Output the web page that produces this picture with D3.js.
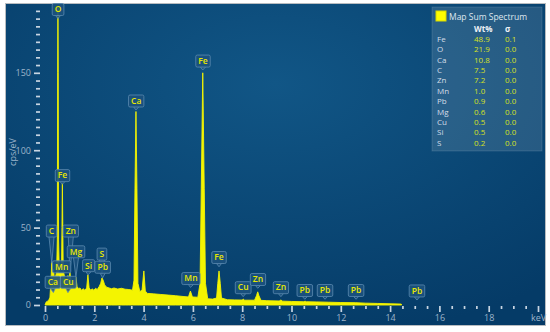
<!DOCTYPE html>
<html>
<head>
<meta charset="utf-8">
<script src="https://cdn.jsdelivr.net/npm/d3@7"></script>
<style>
body { margin: 0; background: #fff; }
text { font-family: "Open Sans", sans-serif; }
</style>
</head>
<body>
<svg id="chart" width="550" height="332"></svg>
<script>
// spectrum (keV, cps/eV)
var specKeV = [0.00,0.05,0.10,0.15,0.20,0.24,0.277,0.31,0.341,0.37,0.42,0.47,0.50,0.513,0.525,0.537,0.55,0.58,0.637,0.67,0.688,0.705,0.722,0.74,0.80,0.86,0.93,0.97,1.012,1.06,1.12,1.19,1.254,1.30,1.36,1.42,1.48,1.55,1.62,1.69,1.74,1.79,1.86,1.92,1.98,2.05,2.12,2.20,2.26,2.31,2.36,2.42,2.50,2.60,2.70,2.80,2.95,3.10,3.25,3.40,3.55,3.61,3.65,3.69,3.73,3.77,3.85,3.94,4.01,4.07,4.15,4.40,4.70,5.00,5.30,5.60,5.82,5.90,5.98,6.20,6.29,6.34,6.40,6.46,6.51,6.60,6.80,6.96,7.01,7.06,7.11,7.16,7.40,7.70,8.00,8.04,8.10,8.50,8.58,8.63,8.68,8.76,9.00,9.50,9.57,9.64,10.00,10.50,10.55,10.60,11.00,11.50,12.00,12.61,13.00,13.50,14.00,14.45,14.47];
var specCps = [0,2,2.5,3,5,15,28,20,23,19,18,21,42,150,192,150,42,22,25,22,50,79,50,22,18,16,19,17,21,15,13,13.5,18,12,10.5,11,9.5,10.5,9.5,11,19.5,11,9.5,10.5,9.5,10.8,10,12,14,17.5,16,13,11.5,11,10.5,11,10.3,10.8,10.2,10,9.6,16,75,125,75,14,8.5,10,22,9,7.5,7.2,6.8,6.4,6,5.5,5.2,9,5.2,5,14,75,150,75,14,4,3.8,4.5,14,22,14,4.5,3.4,3.3,3.2,3.8,3.1,3.1,6,8.5,6,3,2.8,2.6,3.2,2.5,2.3,2.1,2.5,2.1,2.0,1.8,1.6,1.5,1.2,1.0,0.8,0.6,0];

// peak labels: text, label centre (keV), label foot (cps), pointer tip (keV, cps)
var labelText  = ["C","Zn","Mg","Mn","Ca","Cu","Si","S","Pb","O","Fe","Ca","Fe","Mn","Fe","Cu","Zn","Zn","Pb","Pb","Pb","Pb"];
var labelKeV   = [0.264,1.047,1.258,0.677,0.316,0.945,1.77,2.31,2.34,0.53,0.71,3.70,6.41,5.92,7.06,8.04,8.64,9.57,10.54,11.36,12.62,15.09];
var labelCps   = [43.9,43.9,30.5,20.8,10.8,10.8,21.5,29,20.5,187,79.7,127.9,153.7,13.2,26.8,7.3,12.6,7.3,5.5,5.5,5.5,5.2];
var tipKeV     = [0.277,1.012,1.254,0.637,0.341,0.93,1.74,2.307,2.34,0.525,0.705,3.69,6.40,5.90,7.06,8.04,8.63,9.57,10.54,11.36,12.62,15.09];
var tipCps     = [27,21,18,25,8,8,19.5,20,17.5,185,78,126,151.8,11.4,24.7,5.4,10.8,5.4,3.7,3.7,3.7,3.2];

// quantification table
var legendEl    = ["Fe","O","Ca","C","Zn","Mn","Pb","Mg","Cu","Si","S"];
var legendWt    = ["48.9","21.9","10.8","7.5","7.2","1.0","0.9","0.6","0.5","0.5","0.2"];
var legendSigma = ["0.1","0.0","0.0","0.0","0.0","0.0","0.0","0.0","0.0","0.0","0.0"];

var svg = d3.select("#chart");

// panel background
var defs = svg.append("defs");
var grad = defs.append("radialGradient").attr("id", "bg")
    .attr("cx", "50%").attr("cy", "25%").attr("r", "80%");
grad.append("stop").attr("offset", "0%").attr("stop-color", "#115686");
grad.append("stop").attr("offset", "100%").attr("stop-color", "#053b67");

svg.append("rect")
    .attr("x", 5.5).attr("y", 3.5).attr("width", 540).attr("height", 322)
    .attr("fill", "url(#bg)").attr("stroke", "#b8bcc0");

var x = d3.scaleLinear().domain([0, 20]).range([45, 538]);
var y = d3.scaleLinear().domain([0, 190]).range([305, 305 - 190 * 1.548]);

var tickColor = "#c8d5e2", textColor = "#9db4ca";

function styleAxis(g) {
    g.select(".domain").remove();
    g.selectAll(".tick line").attr("stroke", tickColor).attr("stroke-width", 1.7);
    g.selectAll(".tick text").attr("fill", textColor).attr("font-size", 9)
        .style("font-family", "'Open Sans', sans-serif");
}

// y axis
svg.append("g").attr("transform", "translate(40,0)")
    .call(d3.axisLeft(y).tickValues(d3.range(0, 191, 5).filter(function(d){ return d % 50 != 0; }))
        .tickSize(4).tickFormat(""))
    .call(styleAxis);
svg.append("g").attr("transform", "translate(40,0)")
    .call(d3.axisLeft(y).tickValues([0, 50, 100, 150]).tickSize(6).tickPadding(3))
    .call(styleAxis);

svg.append("text")
    .attr("transform", "translate(16,152) rotate(-90)")
    .attr("text-anchor", "middle")
    .attr("fill", textColor).attr("font-size", 9)
    .text("cps/eV");

// x axis
svg.append("g").attr("transform", "translate(0,306)")
    .call(d3.axisBottom(x).tickValues(d3.range(0.5, 20, 0.5).filter(function(d){ return d % 2 != 0; }))
        .tickSize(3).tickFormat(""))
    .call(styleAxis);
svg.append("g").attr("transform", "translate(0,306)")
    .call(d3.axisBottom(x).tickValues(d3.range(0, 21, 2)).tickSize(6).tickPadding(3)
        .tickFormat(function(d){ return d == 20 ? "keV" : d; }))
    .call(styleAxis);

// spectrum
var area = d3.area()
    .x(function(d, i){ return x(specKeV[i]); })
    .y0(y(0))
    .y1(function(d){ return y(d); });

svg.append("path")
    .datum(specCps)
    .attr("d", area)
    .attr("fill", "#f4f400")
    .attr("stroke", "#f4f400")
    .attr("stroke-width", 0.9);

// peak labels
var labels = svg.append("g");
labelText.forEach(function(t, i) {
    var cx = x(labelKeV[i]), by = y(labelCps[i]);
    var g = labels.append("g");
    var ptr = g.append("path");
    var box = g.append("rect");
    var txt = g.append("text")
        .attr("x", cx).attr("y", by - 3.2)
        .attr("text-anchor", "middle")
        .attr("font-size", 8.5).attr("font-weight", 600)
        .attr("fill", "#e8e800")
        .text(t);
    var w = txt.node().getComputedTextLength() + 5;
    ptr.attr("d", "M" + (cx - 2.5) + "," + by + "L" + x(tipKeV[i]) + "," + y(tipCps[i]) + "L" + (cx + 2.5) + "," + by)
        .attr("fill", "#1c527e").attr("stroke", "#5c8ab0").attr("stroke-width", 0.8)
        .attr("fill-opacity", 0.85);
    box.attr("x", cx - w / 2).attr("y", by - 12).attr("width", w).attr("height", 12)
        .attr("rx", 1.5)
        .attr("fill", "#1c527e").attr("fill-opacity", 0.9)
        .attr("stroke", "#5c8ab0").attr("stroke-width", 0.8);
});

// legend / quantification panel
var lg = svg.append("g");
lg.append("rect")
    .attr("x", 432).attr("y", 7).attr("width", 110).attr("height", 144)
    .attr("fill", "#ffffff").attr("fill-opacity", 0.12)
    .attr("stroke", "#ffffff").attr("stroke-opacity", 0.12);
lg.append("rect")
    .attr("x", 436).attr("y", 11).attr("width", 10).attr("height", 10)
    .attr("fill", "#ffff00").attr("stroke", "#d8d800");
lg.append("text").attr("x", 449).attr("y", 19.5)
    .attr("font-size", 8.5).attr("fill", "#dfe7ef").text("Map Sum Spectrum");
lg.append("text").attr("x", 474).attr("y", 32)
    .attr("font-size", 8).attr("font-weight", 700).attr("fill", "#eef2f6").text("Wt%");
lg.append("text").attr("x", 505).attr("y", 32)
    .attr("font-size", 8).attr("font-weight", 700).attr("fill", "#eef2f6").text("σ");

legendEl.forEach(function(el, i) {
    var ty = 42 + i * 10.37;
    lg.append("text").attr("x", 437).attr("y", ty)
        .attr("font-size", 8).attr("fill", "#d3dde8").text(el);
    lg.append("text").attr("x", 474).attr("y", ty)
        .attr("font-size", 8).attr("fill", "#d6e024").text(legendWt[i]);
    lg.append("text").attr("x", 505).attr("y", ty)
        .attr("font-size", 8).attr("fill", "#d6e024").text(legendSigma[i]);
});
</script>
</body>
</html>
